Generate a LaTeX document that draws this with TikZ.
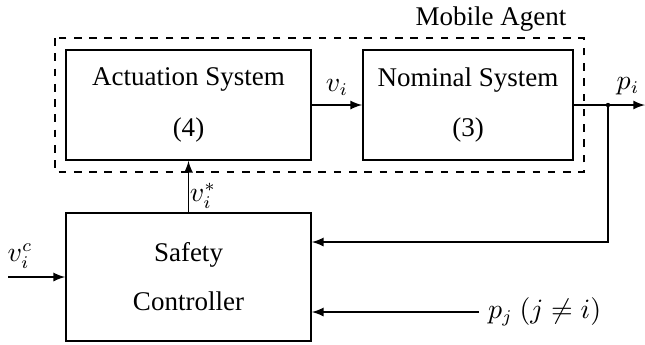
\documentclass[tikz,border=0pt]{standalone}
\usepackage{fontspec}
\setmainfont{Liberation Serif}
\usepackage{amssymb}
\usetikzlibrary{calc,positioning}

\begin{document}
\begin{tikzpicture}[x=0.0138cm,y=-0.0138cm,>=latex,
    every node/.style={font=\fontsize{10.6}{12.7}\selectfont},
    block/.style={draw, semithick, align=center, minimum width=3.38cm},
    sig/.style={->, semithick}]
    \useasboundingbox (0,0) rectangle (645,344);
    \node[block, minimum height=1.518cm] (act) at (188.5,105) {Actuation System\\[7pt](4)};
    \node[block, minimum height=1.518cm, minimum width=2.898cm] (nom) at (468,105) {Nominal System\\[7pt](3)};
    \node[block, minimum height=1.766cm] (ctrl) at (188.5,277) {Safety\\[6.5pt]Controller};
    \draw[semithick, dashed] (55,38) rectangle (584,172);
    \node (agent) at (491,19) {Mobile Agent};

    \coordinate (split) at (608,105);
    \coordinate (out) at (645,105);
    \coordinate (fb) at (608,242);
    \coordinate (pj) at (479,312);
    \coordinate (vc) at (8,277);

    \draw[sig] (act.east) -- node[above] {$v_i$} (nom.west);
    \draw[semithick] (nom.east) -- (split);
    \draw[sig] (split) -- (out);
    \node (pi) at (628,86) {$p_i$};
    \fill (split) circle (2.2);
    \draw[sig] (split) -- (fb) -- (fb -| ctrl.east);
    \draw[sig] (pj) -- (pj -| ctrl.east);
    \node[right=0pt of pj] (pjlabel) {$p_j~(j\neq i)$};
    \draw[sig] (vc) -- (ctrl.west);
    \node (vclabel) at (20,256) {$v_i^c$};
    \draw[sig] (ctrl.north) -- (act.south);
    \node (vslabel) at (203,196) {$v_i^*$};
\end{tikzpicture}
\end{document}
